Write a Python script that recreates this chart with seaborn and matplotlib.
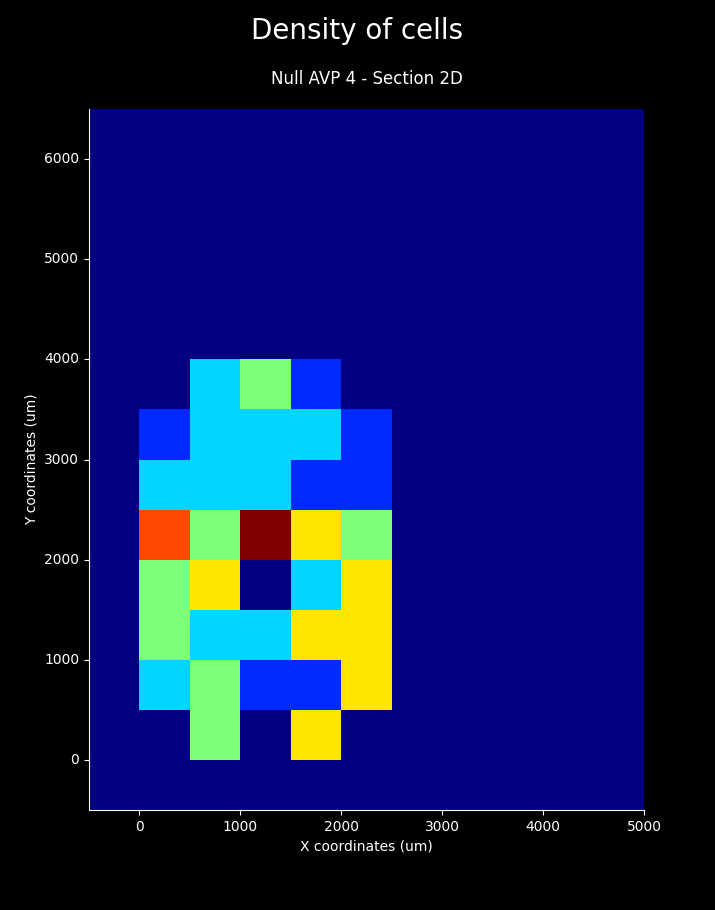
import numpy as np
import matplotlib
matplotlib.use("Agg")
import matplotlib.pyplot as plt
import seaborn as sb

# cell counts per 500 um bin, rows = y bins from 0 upward, cols = x bins from 0 to 2500
row_y0 = [0, 3, 0, 4, 0]
row_y500 = [2, 3, 1, 1, 4]
row_y1000 = [3, 2, 2, 4, 4]
row_y1500 = [3, 4, 0, 2, 4]
row_y2000 = [5, 3, 6, 4, 3]
row_y2500 = [2, 2, 2, 1, 1]
row_y3000 = [1, 2, 2, 2, 1]
row_y3500 = [0, 2, 3, 1, 0]
counts = [row_y0, row_y500, row_y1000, row_y1500, row_y2000, row_y2500, row_y3000, row_y3500]

binw = 500
x_edges = np.arange(-500, 5001, binw)
y_edges = np.arange(-500, 6501, binw)
xticks = [0, 1000, 2000, 3000, 4000, 5000]
yticks = [0, 1000, 2000, 3000, 4000, 5000, 6000]

grid = np.zeros((len(y_edges) - 1, len(x_edges) - 1))
arr = np.array(counts)
grid[1:1 + arr.shape[0], 1:1 + arr.shape[1]] = arr

plt.style.use("dark_background")
fig = plt.figure(figsize=(7.15, 9.1), dpi=100)
ax = fig.add_axes([0.1245, 0.1099, 0.7762, 0.7703])
sb.heatmap(grid, cmap="jet", vmin=0, vmax=6, cbar=False, ax=ax)
ax.invert_yaxis()

ax.set_xticks([(v - x_edges[0]) / binw for v in xticks])
ax.set_xticklabels([str(v) for v in xticks], rotation=0)
ax.set_yticks([(v - y_edges[0]) / binw for v in yticks])
ax.set_yticklabels([str(v) for v in yticks], rotation=0)
ax.tick_params(length=3.5, width=0.8, color="white", labelsize=10, labelcolor="white")
for s in ["left", "bottom"]:
    ax.spines[s].set_visible(True)
    ax.spines[s].set_color("white")
    ax.spines[s].set_linewidth(0.8)

ax.set_xlabel("X coordinates (um)", fontsize=10)
ax.set_ylabel("Y coordinates (um)", fontsize=10)
ax.set_title("Null AVP 4 - Section 2D", fontsize=12, pad=18)
fig.suptitle("Density of cells", fontsize=20, y=0.966, va="center")

plt.savefig("out.png", dpi=100)
